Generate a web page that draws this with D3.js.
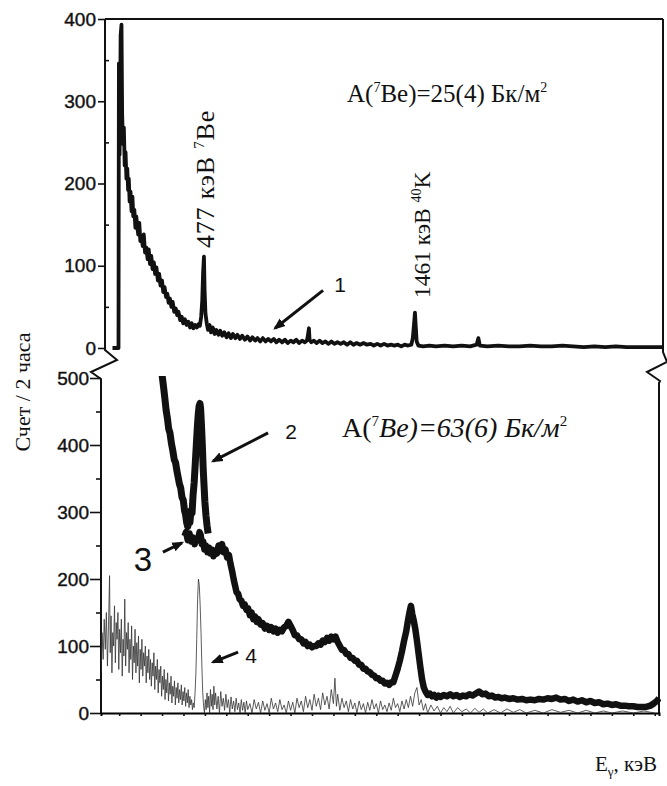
<!DOCTYPE html>
<html>
<head>
<meta charset="utf-8">
<script src="https://cdn.jsdelivr.net/npm/d3@7"></script>
<style>
  body { margin: 0; background: #fff; }
  svg { display: block; }
</style>
</head>
<body>
<div id="chart"></div>
<script>
// spectrum 1 (top panel): [energy keV, counts]
var spec1 = [[50,0],[78,0],[80,346],[83,235],[86,300],[88,380],[92,393],[95,285],[99,248],[103,268],
  [107,222],[111,238],[115,206],[119,218],[123,192],[126,206],[130,178],[134,190],[139,166],[143,184],
  [147,160],[152,168],[157,146],[161,160],[165,150],[170,138],[175,152],[180,130],[186,136],[191,124],
  [196,138],[202,116],[208,122],[214,108],[219,120],[225,102],[231,112],[237,96],[243,104],[249,90],
  [255,98],[262,82],[268,90],[274,76],[281,82],[287,68],[293,74],[300,62],[306,66],[312,55],
  [318,60],[325,50],[331,56],[338,44],[345,48],[352,40],[358,44],[366,34],[373,38],[380,30],
  [388,35],[396,28],[404,32],[412,25],[420,30],[428,24],[436,28],[444,25],[452,29],[458,27],
  [464,38],[469,58],[473,92],[477,111],[480,70],[484,42],[490,30],[496,22],[503,28],[510,19],
  [518,25],[527,17],[535,22],[545,16],[553,21],[562,15],[572,19],[583,13],[592,18],[603,12],
  [612,17],[624,12],[633,16],[645,11],[655,15],[668,10],[680,14],[692,9],[703,13],[716,9],
  [727,12],[740,8],[752,12],[765,8],[777,11],[790,8],[803,11],[815,7],[828,10],[842,7],
  [855,10],[868,6],[882,9],[895,7],[908,10],[921,6],[935,9],[948,7],[958,9],[964,18],
  [967,24],[970,10],[978,7],[990,9],[1003,6],[1017,9],[1030,6],[1044,8],[1058,5],[1072,8],
  [1086,5],[1100,7],[1115,5],[1130,7],[1145,4],[1160,7],[1175,4],[1190,6],[1206,4],[1222,6],
  [1238,4],[1255,5],[1270,3],[1286,5],[1302,3],[1318,5],[1334,3],[1350,4],[1366,3],[1382,4],
  [1398,2],[1414,4],[1430,3],[1445,4],[1452,12],[1458,30],[1462,43],[1466,25],[1470,8],[1478,3],
  [1500,2],[1530,3],[1560,2],[1600,3],[1640,2],[1680,3],[1720,2],[1750,4],[1758,12],[1765,3],
  [1800,2],[1850,3],[1900,2],[1950,2],[2000,3],[2050,2],[2100,2],[2150,3],[2200,2],[2250,1],
  [2300,2],[2350,1],[2400,2],[2450,1],[2500,1],[2550,1],[2620,1]];

// spectrum 2 (bottom panel, heavy curve around the 477 keV line)
var spec2 = [[280,560],[292,525],[300,505],[308,484],[313,470],[319,452],[325,440],[331,424],[337,418],
  [344,402],[350,392],[357,378],[363,374],[369,362],[375,352],[381,342],[387,336],[393,322],[399,318],
  [405,302],[410,296],[415,284],[420,278],[425,288],[430,284],[435,302],[440,298],[445,326],[450,344],
  [455,372],[460,400],[465,428],[469,446],[473,458],[477,462],[480,455],[484,430],[488,400],[492,365],
  [496,340],[500,315],[505,295],[510,280],[515,268]];

// spectrum 3 (bottom panel, heavy curve)
var spec3 = [[405,264],[412,270],[420,258],[428,268],[436,256],[444,262],[452,252],[460,260],[468,258],
  [475,270],[480,266],[486,252],[492,256],[498,244],[505,250],[512,240],[519,247],[526,238],[533,244],
  [540,234],[548,242],[556,238],[564,250],[572,242],[580,252],[588,240],[596,244],[604,232],[612,236],
  [620,222],[627,212],[634,200],[641,190],[648,180],[655,178],[662,170],[670,168],[678,160],[686,162],
  [694,154],[702,156],[710,146],[718,150],[726,140],[734,144],[742,136],[750,140],[760,132],[770,134],
  [780,126],[790,130],[800,124],[810,128],[820,122],[830,126],[840,120],[850,124],[860,122],[870,128],
  [880,130],[890,136],[900,130],[910,124],[920,116],[930,116],[940,110],[950,110],[960,104],[970,106],
  [980,100],[990,102],[1000,98],[1010,100],[1020,100],[1030,104],[1040,102],[1050,108],[1060,106],[1070,112],
  [1080,108],[1090,114],[1100,110],[1110,114],[1120,106],[1130,100],[1140,94],[1150,94],[1160,88],[1170,88],
  [1180,82],[1190,82],[1200,78],[1210,78],[1220,72],[1230,72],[1240,66],[1250,66],[1260,62],[1270,61],
  [1280,57],[1290,56],[1300,52],[1310,52],[1320,48],[1330,48],[1340,44],[1350,45],[1360,42],[1370,46],
  [1380,46],[1390,56],[1400,66],[1410,78],[1420,92],[1430,108],[1440,122],[1448,138],[1455,150],[1462,160],
  [1468,148],[1475,138],[1482,126],[1490,108],[1498,88],[1506,68],[1514,50],[1522,38],[1530,32],[1540,27],
  [1550,29],[1560,25],[1570,27],[1580,23],[1590,26],[1600,24],[1615,27],[1630,25],[1645,28],[1660,25],
  [1675,27],[1690,24],[1705,26],[1720,25],[1735,28],[1750,26],[1765,29],[1780,32],[1795,28],[1810,29],
  [1825,25],[1840,26],[1855,23],[1870,24],[1885,22],[1900,23],[1920,21],[1940,22],[1960,20],[1980,21],
  [2000,19],[2020,20],[2040,19],[2060,21],[2080,20],[2100,22],[2120,21],[2140,23],[2160,20],[2180,21],
  [2200,18],[2220,20],[2240,17],[2260,19],[2280,16],[2300,18],[2320,15],[2340,16],[2360,13],[2380,14],
  [2400,12],[2420,13],[2440,11],[2460,11],[2480,10],[2500,10],[2520,9],[2540,9],[2560,9],[2580,11],
  [2595,14],[2610,18],[2620,22]];

// spectrum 4 (bottom panel, thin noisy curve)
var spec4 = [[15,60],[20,120],[25,80],[30,140],[35,95],[40,150],[45,70],[50,130],[55,205],[58,90],
  [62,145],[66,60],[70,120],[74,100],[78,160],[82,75],[86,135],[90,110],[94,150],[98,65],
  [102,125],[106,90],[110,140],[114,55],[118,110],[122,85],[126,170],[130,70],[134,120],[138,95],
  [142,135],[146,60],[150,110],[154,80],[158,130],[162,50],[166,100],[170,75],[174,125],[178,60],
  [182,105],[186,70],[190,115],[194,45],[198,95],[202,65],[206,110],[210,55],[214,90],[218,70],
  [222,100],[226,45],[230,85],[234,60],[238,95],[242,50],[246,80],[250,40],[254,75],[258,55],
  [262,90],[266,35],[270,70],[274,50],[278,80],[282,30],[286,65],[290,45],[294,70],[298,25],
  [302,55],[306,35],[310,65],[314,20],[318,50],[322,30],[326,60],[330,18],[334,45],[338,28],
  [342,55],[346,15],[350,40],[354,25],[358,48],[362,12],[366,38],[370,22],[374,45],[378,15],
  [382,35],[386,20],[390,42],[394,12],[398,32],[402,18],[406,38],[410,10],[414,30],[418,15],
  [422,35],[426,8],[430,25],[434,12],[438,20],[442,5],[446,15],[450,8],[454,30],[458,60],
  [462,110],[466,170],[470,200],[474,190],[478,160],[482,120],[486,70],[490,30],[494,10],[498,0],
  [502,20],[506,5],[510,30],[514,8],[518,25],[522,0],[526,35],[530,10],[534,28],[538,5],
  [542,40],[546,12],[550,30],[556,6],[562,25],[568,0],[574,32],[580,10],[586,22],[592,4],
  [598,28],[604,8],[610,20],[616,0],[622,24],[628,6],[634,18],[640,2],[646,22],[652,5],
  [658,15],[664,0],[670,20],[676,4],[682,16],[688,0],[694,18],[700,5],[710,14],[720,0],
  [730,20],[740,6],[750,16],[760,0],[770,18],[780,4],[790,14],[800,0],[810,22],[820,6],
  [830,15],[840,2],[850,20],[860,5],[870,12],[880,0],[890,18],[900,4],[910,16],[920,0],
  [930,22],[940,8],[950,18],[960,2],[970,25],[980,8],[990,20],[1000,4],[1010,28],[1020,10],
  [1030,22],[1040,5],[1050,30],[1060,12],[1070,25],[1080,6],[1090,35],[1100,14],[1107,52],[1114,10],
  [1120,28],[1130,4],[1140,22],[1150,8],[1160,18],[1170,2],[1180,20],[1190,6],[1200,15],[1210,0],
  [1220,18],[1230,5],[1240,14],[1250,0],[1260,16],[1270,4],[1280,20],[1290,6],[1300,14],[1310,0],
  [1320,18],[1330,5],[1340,12],[1350,2],[1360,15],[1370,4],[1380,22],[1390,8],[1400,14],[1410,2],
  [1420,18],[1430,6],[1440,20],[1450,8],[1460,25],[1470,10],[1480,30],[1490,38],[1500,12],[1510,20],
  [1520,4],[1530,14],[1540,0],[1555,12],[1570,3],[1585,10],[1600,0],[1615,8],[1630,2],[1645,10],
  [1660,0],[1680,8],[1700,2],[1720,6],[1740,0],[1760,7],[1780,1],[1800,6],[1820,0],[1850,5],
  [1880,0],[1910,6],[1940,1],[1970,5],[2000,0],[2040,4],[2080,0],[2120,5],[2160,1],[2200,4],
  [2240,0],[2280,4],[2320,0],[2360,3],[2400,0],[2450,3],[2500,0],[2550,3],[2600,0]];

// tick values
var topTicks = [0, 100, 200, 300, 400];
var topMinor = [50, 150, 250, 350];
var botTicks = [0, 100, 200, 300, 400, 500];
var botMinor = [50, 150, 250, 350, 450];

var SERIF = "'Liberation Serif', 'Times New Roman', 'DejaVu Serif', serif";
var SANS = "'Liberation Sans', Arial, sans-serif";

function init(){
    var w = 667, h = 786;

    var svg = d3.select("#chart").append("svg")
                .attr("width", w)
                .attr("height", h);

    // scales for both panels (same energy range, slightly shifted axes)
    var xTop = d3.scaleLinear().domain([15, 2620]).range([105, 663]);
    var yTop = d3.scaleLinear().domain([0, 400]).range([348, 19]);
    var xBot = d3.scaleLinear().domain([15, 2620]).range([101, 659]);
    var yBot = d3.scaleLinear().domain([0, 500]).range([713, 378]);

    var defs = svg.append("defs");
    defs.append("clipPath").attr("id", "botClip")
        .append("rect").attr("x", 101).attr("y", 376).attr("width", 560).attr("height", 340);

    defs.append("marker")
        .attr("id", "arr")
        .attr("viewBox", "0 0 10 10")
        .attr("refX", 8).attr("refY", 5)
        .attr("markerWidth", 4).attr("markerHeight", 4)
        .attr("orient", "auto")
        .append("path").attr("d", "M0,1 L10,5 L0,9 Z").attr("fill", "#111");

    // ---- top panel axes ----
    var gTop = svg.append("g").attr("transform", "translate(105,0)")
        .call(d3.axisLeft(yTop).tickValues(topTicks).tickSize(7).tickPadding(2));
    gTop.select(".domain").remove();
    var gTopMinor = svg.append("g").attr("transform", "translate(105,0)")
        .call(d3.axisLeft(yTop).tickValues(topMinor).tickSize(-4).tickFormat(""));
    gTopMinor.select(".domain").remove();

    // ---- bottom panel axes ----
    var gBot = svg.append("g").attr("transform", "translate(101,0)")
        .call(d3.axisLeft(yBot).tickValues(botTicks).tickSize(11).tickPadding(1));
    gBot.select(".domain").remove();
    var gBotMinor = svg.append("g").attr("transform", "translate(101,0)")
        .call(d3.axisLeft(yBot).tickValues(botMinor).tickSize(5).tickFormat(""));
    gBotMinor.select(".domain").remove();

    var gX = svg.append("g").attr("transform", "translate(0,713)")
        .call(d3.axisBottom(xBot).tickValues(d3.range(100, 2601, 100)).tickSize(3).tickFormat(""));
    gX.select(".domain").attr("stroke-width", 2);

    svg.selectAll(".tick line").attr("stroke", "#111").attr("stroke-width", 1.6);
    svg.selectAll(".tick text")
        .attr("font-family", SANS)
        .attr("font-size", 19)
        .attr("fill", "#111")
        .attr("stroke", "#111")
        .attr("stroke-width", 0.4);

    // frame lines and axis breaks
    var frame = [
        "M105,19 L663,19",
        "M105,19 L105,350 L117,360 L91,372 L101,379 L101,713",
        "M663,19 L663,352 L667,362 L647,372 L660,381 L659,383 L659,713"
    ];
    svg.selectAll(".frame").data(frame).enter().append("path")
        .attr("class", "frame")
        .attr("d", function(d){ return d; })
        .attr("fill", "none")
        .attr("stroke", "#111")
        .attr("stroke-width", 2);

    // ---- spectra ----
    var lineTop = d3.line().x(function(d){ return xTop(d[0]); }).y(function(d){ return yTop(d[1]); });
    var lineBot = d3.line().x(function(d){ return xBot(d[0]); }).y(function(d){ return yBot(d[1]); });

    svg.append("path").datum(spec1)
        .attr("d", lineTop)
        .attr("fill", "none").attr("stroke", "#111")
        .attr("stroke-width", 3.8).attr("stroke-linejoin", "round");

    var gCurves = svg.append("g").attr("clip-path", "url(#botClip)");

    gCurves.append("path").datum(spec4)
        .attr("d", lineBot)
        .attr("fill", "none").attr("stroke", "#333")
        .attr("stroke-width", 0.8);

    gCurves.append("path").datum(spec3)
        .attr("d", lineBot)
        .attr("fill", "none").attr("stroke", "#111")
        .attr("stroke-width", 6.5).attr("stroke-linejoin", "round");

    gCurves.append("path").datum(spec2)
        .attr("d", lineBot)
        .attr("fill", "none").attr("stroke", "#111")
        .attr("stroke-width", 7).attr("stroke-linejoin", "round");

    // ---- arrows pointing to curves ----
    var arrows = [
        {x1: xTop(1033), y1: yTop(70), x2: xTop(809), y2: yTop(24)},
        {x1: xBot(795), y1: yBot(418), x2: xBot(538), y2: yBot(376)},
        {x1: xBot(304), y1: yBot(240), x2: xBot(393), y2: yBot(254)},
        {x1: xBot(655), y1: yBot(91), x2: xBot(538), y2: yBot(76)}
    ];
    svg.selectAll(".arrow").data(arrows).enter().append("line")
        .attr("class", "arrow")
        .attr("x1", function(d){ return d.x1; })
        .attr("y1", function(d){ return d.y1; })
        .attr("x2", function(d){ return d.x2; })
        .attr("y2", function(d){ return d.y2; })
        .attr("stroke", "#111")
        .attr("stroke-width", 3)
        .attr("marker-end", "url(#arr)");

    // curve numbers
    var nums = [
        {t: "1", x: 340, y: 292, s: 21},
        {t: "2", x: 291, y: 439, s: 21},
        {t: "3", x: 143, y: 571, s: 33},
        {t: "4", x: 251, y: 663, s: 21}
    ];
    svg.selectAll(".num").data(nums).enter().append("text")
        .attr("class", "num")
        .attr("x", function(d){ return d.x; })
        .attr("y", function(d){ return d.y; })
        .attr("text-anchor", "middle")
        .attr("font-family", SANS)
        .attr("font-size", function(d){ return d.s; })
        .attr("fill", "#111")
        .text(function(d){ return d.t; });

    // activity labels
    var t1 = svg.append("text").attr("x", 347).attr("y", 102)
        .attr("font-family", SERIF).attr("font-size", 25).attr("fill", "#111");
    t1.append("tspan").text("A(");
    t1.append("tspan").attr("dy", -10).attr("font-size", 14).text("7");
    t1.append("tspan").attr("dy", 10).text("Be)=25(4) Бк/м");
    t1.append("tspan").attr("dy", -10).attr("font-size", 14).text("2");

    var t2 = svg.append("text").attr("x", 342).attr("y", 437)
        .attr("font-family", SERIF).attr("font-size", 28).attr("fill", "#111");
    t2.append("tspan").text("A(");
    t2.append("tspan").attr("dy", -11).attr("font-size", 15).text("7");
    t2.append("tspan").attr("dy", 11).attr("font-style", "italic").text("Be)=63(6) Бк/м");
    t2.append("tspan").attr("dy", -11).attr("font-size", 15).text("2");

    // peak labels, rotated
    var p1 = svg.append("text")
        .attr("transform", "translate(214,248) rotate(-90)")
        .attr("font-family", SERIF).attr("font-size", 26).attr("letter-spacing", 0.8).attr("fill", "#111");
    p1.append("tspan").text("477 кэВ ");
    p1.append("tspan").attr("dy", -10).attr("font-size", 15).text("7");
    p1.append("tspan").attr("dy", 10).text("Be");

    var p2 = svg.append("text")
        .attr("transform", "translate(430,298) rotate(-90)")
        .attr("font-family", SERIF).attr("font-size", 23.5).attr("fill", "#111");
    p2.append("tspan").text("1461 кэВ ");
    p2.append("tspan").attr("dy", -9).attr("font-size", 14).text("40");
    p2.append("tspan").attr("dy", 9).text("K");

    // axis titles
    svg.append("text")
        .attr("transform", "translate(30,392) rotate(-90)")
        .attr("text-anchor", "middle")
        .attr("font-family", SERIF).attr("font-size", 22).attr("fill", "#111")
        .text("Счет / 2 часа");

    var xt = svg.append("text").attr("x", 595).attr("y", 771)
        .attr("font-family", SERIF).attr("font-size", 21).attr("fill", "#111");
    xt.append("tspan").text("E");
    xt.append("tspan").attr("dy", 5).attr("font-size", 13).text("γ");
    xt.append("tspan").attr("dy", -5).text(", кэВ");
}
window.onload = init;
</script>
</body>
</html>
